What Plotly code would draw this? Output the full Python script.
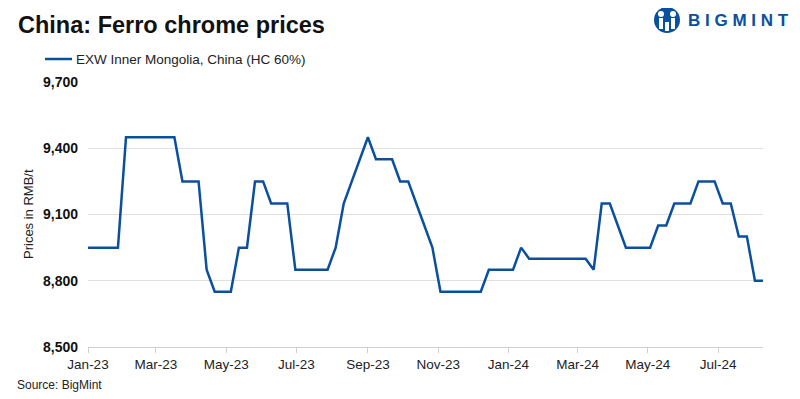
import plotly.graph_objects as go
import pandas as pd

# ---- data ----
first_date = ["2023-01-01"]
weekly_dates = pd.date_range("2023-01-06", "2024-08-09", freq="7D")
dates = list(pd.to_datetime(first_date)) + list(weekly_dates)

prices = [
    8950,
    8950, 8950, 8950, 8950,
    9450, 9450, 9450, 9450, 9450, 9450, 9450,
    9250, 9250, 9250,
    8850,
    8750, 8750, 8750,
    8950, 8950,
    9250, 9250,
    9150, 9150, 9150,
    8850, 8850, 8850, 8850, 8850,
    8950, 9150, 9250, 9350, 9450,
    9350, 9350, 9350,
    9250, 9250,
    9150, 9050, 8950,
    8750, 8750, 8750, 8750, 8750, 8750,
    8850, 8850, 8850, 8850,
    8950,
    8900, 8900, 8900, 8900, 8900, 8900, 8900, 8900,
    8850,
    9150, 9150,
    9050,
    8950, 8950, 8950, 8950,
    9050, 9050,
    9150, 9150, 9150,
    9250, 9250, 9250,
    9150, 9150,
    9000, 9000,
    8800, 8800,
]

series_name = "EXW Inner Mongolia, China (HC 60%)"
y_ticks = [8500, 8800, 9100, 9400, 9700]
y_tick_labels = ["8,500", "8,800", "9,100", "9,400", "9,700"]
title_text = "China: Ferro chrome prices"
y_title = "Prices in RMB/t"
source_text = "Source: BigMint"

# ---- layout helpers (page coordinates; the page body has an 8px margin) ----
OFF = 8
FIG_W, FIG_H = 800 - OFF, 399 - OFF
PL, PR, PT, PB = 88, 763, 82, 347          # plot area in page pixels
L, R, T, B = PL - OFF, 800 - PR, PT - OFF, 399 - PB
W = PR - PL
H = PB - PT
def px(x):
    return (x - PL) / W
def py(y):
    return (PB - y) / H

BLUE = "#0b4f9f"
FONT = "Liberation Sans, Arial, sans-serif"

fig = go.Figure()
fig.add_trace(go.Scatter(
    x=dates, y=prices, mode="lines", name=series_name,
    line=dict(color=BLUE, width=2.5), showlegend=False,
))

fig.update_layout(
    width=FIG_W, height=FIG_H,
    margin=dict(l=L, r=R, t=T, b=B),
    paper_bgcolor="white", plot_bgcolor="white",
    font=dict(family=FONT, color="#222"),
    xaxis=dict(
        type="date",
        range=["2023-01-01", "2024-08-09"],
        tick0="2023-01-01", dtick="M2", tickformat="%b-%y",
        showgrid=False, showline=True, linecolor="#d0d0d0", linewidth=1,
        ticks="outside", ticklen=5, tickcolor="#d0d0d0",
        tickfont=dict(size=13.5, color="#222"),
        zeroline=False,
    ),
    yaxis=dict(
        range=[8500, 9700],
        tickvals=y_ticks, ticktext=y_tick_labels,
        showgrid=True, gridcolor="#e0e0e0", gridwidth=1,
        zeroline=False, showline=False, ticks="",
        ticklabelstandoff=9,
        tickfont=dict(size=14, color="#111", weight="bold"),
    ),
)

annotations = [
    dict(text=title_text, x=px(16), y=py(25), xref="paper", yref="paper",
         xanchor="left", yanchor="middle", showarrow=False,
         font=dict(size=23.5, color="#111", family=FONT, weight="bold")),
    dict(text=series_name, x=px(74), y=py(59), xref="paper", yref="paper",
         xanchor="left", yanchor="middle", showarrow=False,
         font=dict(size=13.5, color="#222", family=FONT)),
    dict(text=y_title, x=px(28), y=py(214), xref="paper", yref="paper",
         xanchor="center", yanchor="middle", showarrow=False, textangle=-90,
         font=dict(size=13, color="#222", family=FONT)),
    dict(text=source_text, x=px(15), y=py(385), xref="paper", yref="paper",
         xanchor="left", yanchor="middle", showarrow=False,
         font=dict(size=12, color="#222", family=FONT)),
    dict(text="B I G M I N T", x=px(791), y=py(20), xref="paper", yref="paper",
         xanchor="right", yanchor="middle", showarrow=False,
         font=dict(size=17, color=BLUE, family=FONT, weight="bold")),
]
fig.update_layout(annotations=annotations)

shapes = [
    dict(type="line", xref="paper", yref="paper", x0=px(45), x1=px(72),
         y0=py(59), y1=py(59), line=dict(color=BLUE, width=2.5)),
    # logo icon
    dict(type="circle", xref="paper", yref="paper", x0=px(654), x1=px(680),
         y0=py(33), y1=py(7), fillcolor=BLUE, line=dict(width=0)),
    dict(type="circle", xref="paper", yref="paper", x0=px(658), x1=px(664),
         y0=py(17), y1=py(11), fillcolor="white", line=dict(width=0)),
    dict(type="circle", xref="paper", yref="paper", x0=px(670), x1=px(676),
         y0=py(17), y1=py(11), fillcolor="white", line=dict(width=0)),
    dict(type="rect", xref="paper", yref="paper", x0=px(659), x1=px(663),
         y0=py(29), y1=py(18), fillcolor="white", line=dict(width=0)),
    dict(type="rect", xref="paper", yref="paper", x0=px(671), x1=px(675),
         y0=py(29), y1=py(18), fillcolor="white", line=dict(width=0)),
    dict(type="rect", xref="paper", yref="paper", x0=px(665), x1=px(669),
         y0=py(31), y1=py(22), fillcolor="white", line=dict(width=0)),
]
fig.update_layout(shapes=shapes)

fig.write_html("out.html")
